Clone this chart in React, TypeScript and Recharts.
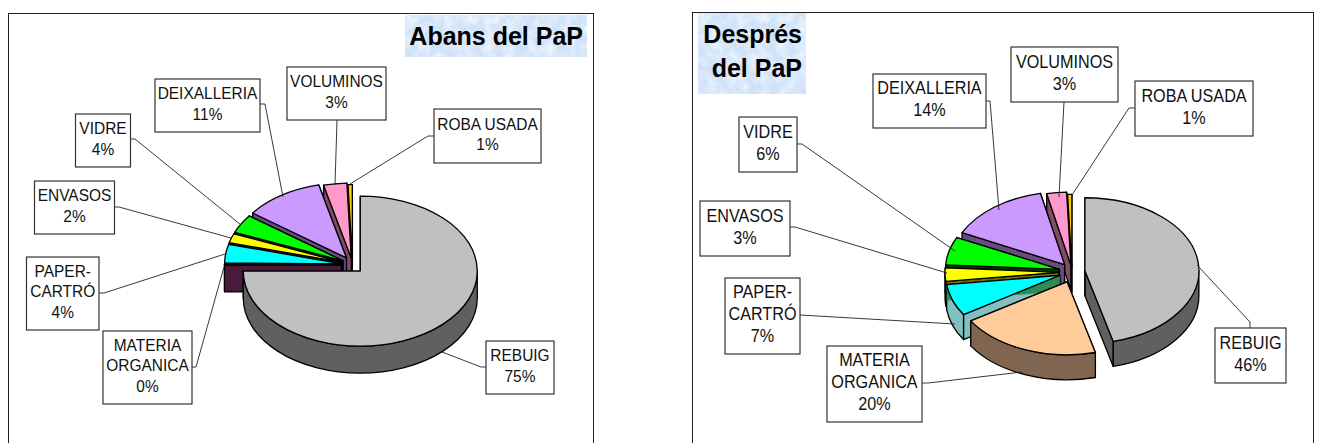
import { Pie, PieChart } from "recharts";

const CATEGORIES = [
  "REBUIG",
  "MATERIA\nORGANICA",
  "PAPER-\nCARTRÓ",
  "ENVASOS",
  "VIDRE",
  "DEIXALLERIA",
  "VOLUMINOS",
  "ROBA USADA",
];
const ABANS_VALUES = [75, 0.2, 4, 2, 4, 11, 3.2, 0.6];
const DESPRES_VALUES = [46, 20, 7, 3, 6.2, 14.4, 2.8, 0.6];

const TOP_COLORS = ["#c0c0c0", "#ffcc99", "#00ffff", "#ffff00", "#00ff00", "#cc99ff", "#ff99cc", "#ffcc00"];
const SIDE_COLORS = ["#606060", "#806650", "#80c0c0", "#707000", "#004000", "#664d80", "#804d66", "#806600"];

const WIDTH = 1319;
const HEIGHT = 443;
const FONT = "'Liberation Sans', Arial, sans-serif";

interface LabelSpot {
  box: [number, number, number, number];
  line: [number, number][];
}

interface ChartSetup {
  left: number;
  right: number;
  top: number;
  cx: number;
  cy: number;
  rx: number;
  ry: number;
  depth: number;
  push: number[];
  fontSize: number;
  lineHeight: number;
  labels: LabelSpot[];
  topColors: string[];
  sideColors: string[];
  seam?: { slot: number; color: string; depth: number };
}

// absolute page pixels, same order as CATEGORIES
const ABANS_SETUP: ChartSetup = {
  left: 8,
  right: 594,
  top: 13,
  cx: 352.5,
  cy: 265,
  rx: 117,
  ry: 75,
  depth: 27,
  push: [11, 11, 11, 11, 11, 11, 9, 7],
  fontSize: 17,
  lineHeight: 20.7,
  topColors: ["#c0c0c0", "#4a1a3a", ...TOP_COLORS.slice(2)],
  sideColors: ["#606060", "#4a1a3a", ...SIDE_COLORS.slice(2)],
  labels: [
    { box: [486, 341, 554, 394], line: [[486, 367], [481, 367], [442, 352]] },
    { box: [103, 331, 192, 404], line: [[192, 367], [196, 367], [224, 267]] },
    { box: [26.5, 257, 99, 330], line: [[99, 293], [104, 293], [225, 254]] },
    { box: [34.5, 181, 114.5, 234], line: [[114, 207], [119, 207], [231, 238]] },
    { box: [75.5, 114, 130.5, 167], line: [[130, 139], [135, 139], [241, 225]] },
    { box: [155, 79, 260, 132], line: [[260, 104], [265, 104], [283, 197]] },
    { box: [287, 67, 386, 120], line: [[337, 120], [335, 185]] },
    { box: [434, 109, 541, 163], line: [[434, 136], [428, 136], [350, 184]] },
  ],
};

const DESPRES_SETUP: ChartSetup = {
  left: 692,
  right: 1314,
  top: 12,
  cx: 1072,
  cy: 272,
  rx: 114,
  ry: 73,
  depth: 25,
  push: [13, 13.5, 13, 13, 13, 12, 9, 6],
  fontSize: 17.8,
  lineHeight: 22,
  topColors: TOP_COLORS,
  sideColors: SIDE_COLORS,
  seam: { slot: 2, color: "#2e8b57", depth: 16 },
  labels: [
    { box: [1215, 328, 1286, 383], line: [[1250, 328], [1250, 322], [1197, 265]] },
    { box: [827, 346, 922, 422], line: [[922, 383], [928, 383], [1022, 372]] },
    { box: [725, 278, 800, 354], line: [[800, 315], [955, 324]] },
    { box: [700, 201, 790, 256], line: [[790, 227], [795, 227], [947, 273]] },
    { box: [739, 117, 797, 172], line: [[797, 144], [802, 144], [955, 251]] },
    { box: [873, 74, 986, 128], line: [[986, 101], [990, 101], [999, 210]] },
    { box: [1011, 47, 1118, 102], line: [[1064, 102], [1059, 197]] },
    { box: [1135, 81, 1253, 136], line: [[1135, 108], [1129, 108], [1072, 195]] },
  ],
};

const polar = (x: number, y: number, rx: number, ry: number, deg: number) => {
  const rad = (deg * Math.PI) / 180;
  return [x + rx * Math.cos(rad), y - ry * Math.sin(rad)];
};

// Recharts hands us a round sector; we squash it into a tilted 3D wedge
const wedge = (setup: ChartSetup) => (props: any) => {
  const { startAngle, endAngle, payload } = props;
  const i = payload.slot;
  const { rx, ry, depth, seam } = setup;
  const s = Math.min(startAngle, endAngle);
  const e = Math.max(startAngle, endAngle);
  const mid = ((s + e) / 2) * (Math.PI / 180);
  const x = setup.cx + setup.push[i] * Math.cos(mid);
  const y = setup.cy - setup.push[i] * 0.78 * Math.sin(mid);
  const [sx, sy] = polar(x, y, rx, ry, s);
  const [ex, ey] = polar(x, y, rx, ry, e);
  const large = e - s > 180 ? 1 : 0;
  const face = (px: number, py: number, d = depth) =>
    `M${x},${y} L${px},${py} L${px},${py + d} L${x},${y + d} Z`;
  const wallFrom = Math.max(s, 180);
  const wallTo = Math.min(e, 360);
  let wall = "";
  if (wallTo > wallFrom) {
    const [ax, ay] = polar(x, y, rx, ry, wallFrom);
    const [bx, by] = polar(x, y, rx, ry, wallTo);
    wall =
      `M${ax},${ay} A${rx},${ry} 0 0 0 ${bx},${by} L${bx},${by + depth} ` +
      `A${rx},${ry} 0 0 1 ${ax},${ay + depth} Z`;
  }
  const side = setup.sideColors[i];
  return (
    <g stroke="#000" strokeWidth={1.3} strokeLinejoin="round">
      <path d={face(sx, sy)} fill={side} />
      <path d={face(ex, ey)} fill={side} />
      {wall && <path d={wall} fill={side} />}
      {seam && seam.slot === i && (
        <path d={face(sx, sy, seam.depth)} fill={seam.color} stroke="none" />
      )}
      <path
        d={`M${x},${y} L${sx},${sy} A${rx},${ry} 0 ${large} 0 ${ex},${ey} Z`}
        fill={setup.topColors[i]}
      />
    </g>
  );
};

const calloutLabel = (setup: ChartSetup) => (props: any) => {
  const { payload, percent } = props;
  const spot = setup.labels[payload.slot];
  const [x0, y0, x1, y1] = spot.box;
  const lines = [...String(payload.name).split("\n"), `${Math.round(percent * 100)}%`];
  const lh = setup.lineHeight;
  const first = (y0 + y1) / 2 - (lines.length * lh) / 2 + lh * 0.69;
  return (
    <g key={payload.name}>
      <polyline
        points={spot.line.map((p) => p.join(",")).join(" ")}
        fill="none"
        stroke="#222"
        strokeWidth={0.9}
      />
      <rect x={x0} y={y0} width={x1 - x0} height={y1 - y0} fill="#fff" stroke="#333" strokeWidth={1.2} />
      {lines.map((t, n) => (
        <text
          key={t}
          transform={`translate(${(x0 + x1) / 2},${first + n * lh}) scale(0.91,1)`}
          textAnchor="middle"
          fontFamily={FONT}
          fontSize={setup.fontSize}
          fill="#111"
        >
          {t}
        </text>
      ))}
    </g>
  );
};

const WastePie = ({ values, setup }: { values: number[]; setup: ChartSetup }) => {
  // reversed and counter-clockwise so REBUIG is drawn last, on top of the others
  const rows = CATEGORIES.map((name, slot) => ({ name, value: values[slot], slot })).reverse();
  return (
    <PieChart
      width={WIDTH}
      height={HEIGHT}
      margin={{ top: 0, right: 0, bottom: 0, left: 0 }}
      style={{ position: "absolute", left: 0, top: 0 }}
    >
      <Pie
        data={rows}
        dataKey="value"
        nameKey="name"
        cx={setup.cx}
        cy={setup.cy}
        innerRadius={0}
        outerRadius={setup.rx}
        startAngle={90}
        endAngle={450}
        paddingAngle={0}
        isAnimationActive={false}
        shape={wedge(setup)}
        label={calloutLabel(setup)}
        labelLine={false}
      />
    </PieChart>
  );
};

const Frame = ({ setup }: { setup: ChartSetup }) => (
  <div
    style={{
      position: "absolute",
      left: setup.left,
      top: setup.top,
      width: setup.right - setup.left,
      height: HEIGHT - setup.top + 4,
      border: "1.5px solid #222",
      boxSizing: "border-box",
    }}
  />
);

const TitleBox = ({ x, y, w, h, lines }: { x: number; y: number; w: number; h: number; lines: string[] }) => (
  <svg style={{ position: "absolute", left: x, top: y }} width={w} height={h}>
    <filter id={`mottle${x}`}>
      <feTurbulence type="fractalNoise" baseFrequency="0.1" numOctaves={3} seed={4} />
      <feColorMatrix values="0 0 0 0 0.9  0 0 0 0 0.95  0 0 0 0 1  0 0 0 -1.6 1.05" />
    </filter>
    <rect width={w} height={h} fill="#cfe2f7" />
    <rect width={w} height={h} filter={`url(#mottle${x})`} />
    {lines.map((t, n) => (
      <text
        key={t}
        x={w - 4}
        y={29.5 + n * 34.5}
        textAnchor="end"
        fontFamily={FONT}
        fontWeight="bold"
        fontSize={25}
        fill="#000"
      >
        {t}
      </text>
    ))}
  </svg>
);

export default function App() {
  return (
    <div
      style={{
        position: "absolute",
        left: 0,
        top: 0,
        width: WIDTH,
        height: HEIGHT,
        overflow: "hidden",
        background: "#fff",
      }}
    >
      <Frame setup={ABANS_SETUP} />
      <Frame setup={DESPRES_SETUP} />
      <TitleBox x={405} y={15} w={182} h={42} lines={["Abans del PaP"]} />
      <TitleBox x={698} y={13} w={108} h={81} lines={["Després", "del PaP"]} />
      <WastePie values={ABANS_VALUES} setup={ABANS_SETUP} />
      <WastePie values={DESPRES_VALUES} setup={DESPRES_SETUP} />
    </div>
  );
}
